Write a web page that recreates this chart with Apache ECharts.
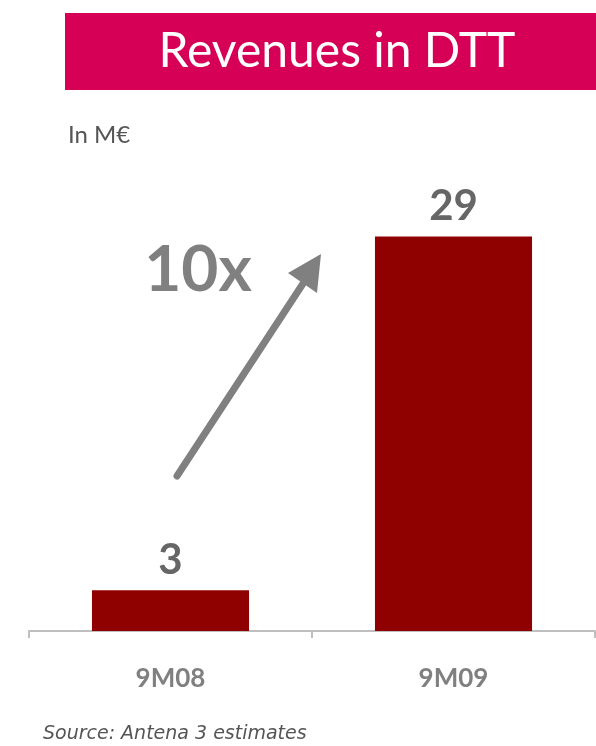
<!DOCTYPE html>
<html>
<head>
<meta charset="utf-8">
<script src="https://cdn.jsdelivr.net/npm/echarts@6/dist/echarts.min.js"></script>
<style>
  html, body { margin: 0; padding: 0; background: #ffffff; }
  #chart { width: 596px; height: 746px; }
</style>
</head>
<body>
<div id="chart"></div>
<script>
// Revenues in DTT, millions of euros
var periods = ['9M08', '9M09'];
var revenues = [3, 29];

var FONT = 'Lato, "Open Sans", sans-serif';

var chart = echarts.init(document.getElementById('chart'), null, { renderer: 'canvas' });

chart.setOption({
  backgroundColor: '#ffffff',
  animation: false,
  grid: { left: 29, right: 1, top: 155, bottom: 115 },
  xAxis: {
    type: 'category',
    data: periods,
    axisLine: { show: true, lineStyle: { color: '#BFBFBF', width: 2 } },
    axisTick: { show: true, length: 7, lineStyle: { color: '#BFBFBF', width: 2 } },
    axisLabel: {
      margin: 35,
      color: '#808080',
      fontFamily: FONT,
      fontWeight: 'bold',
      fontSize: 26
    }
  },
  yAxis: {
    type: 'value',
    min: 0,
    max: 35,
    show: false,
    splitLine: { show: false }
  },
  series: [{
    type: 'bar',
    data: revenues,
    barWidth: '55.5%',
    itemStyle: { color: '#8F0000' },
    label: {
      show: true,
      position: 'top',
      distance: 9,
      color: '#666666',
      fontFamily: FONT,
      fontWeight: 'bold',
      fontSize: 42
    }
  }],
  graphic: [
    // title band
    {
      type: 'rect',
      left: 65, top: 13,
      shape: { width: 531, height: 77 },
      style: { fill: '#D60057' }
    },
    {
      type: 'text',
      x: 337, y: 52,
      style: {
        text: 'Revenues in DTT',
        fill: '#ffffff',
        font: '48px ' + FONT,
        align: 'center',
        verticalAlign: 'middle'
      }
    },
    // unit note
    {
      type: 'text',
      x: 68, y: 135,
      style: {
        text: 'In M€',
        fill: '#555555',
        font: '24px ' + FONT,
        align: 'left',
        verticalAlign: 'middle'
      }
    },
    // growth annotation
    {
      type: 'text',
      x: 198, y: 270,
      style: {
        text: '10x',
        fill: '#808080',
        font: 'bold 64px ' + FONT,
        align: 'center',
        verticalAlign: 'middle'
      }
    },
    {
      type: 'line',
      shape: { x1: 177, y1: 476, x2: 306, y2: 279 },
      style: { stroke: '#808080', lineWidth: 7, lineCap: 'round' }
    },
    {
      type: 'polygon',
      shape: { points: [[321, 254], [288, 273], [317, 293]] },
      style: { fill: '#808080' }
    },
    // source note
    {
      type: 'text',
      x: 43, y: 734,
      style: {
        text: 'Source: Antena 3 estimates',
        fill: '#555555',
        font: 'italic 19px "DejaVu Sans", sans-serif',
        align: 'left',
        verticalAlign: 'middle'
      }
    }
  ]
});
</script>
</body>
</html>
